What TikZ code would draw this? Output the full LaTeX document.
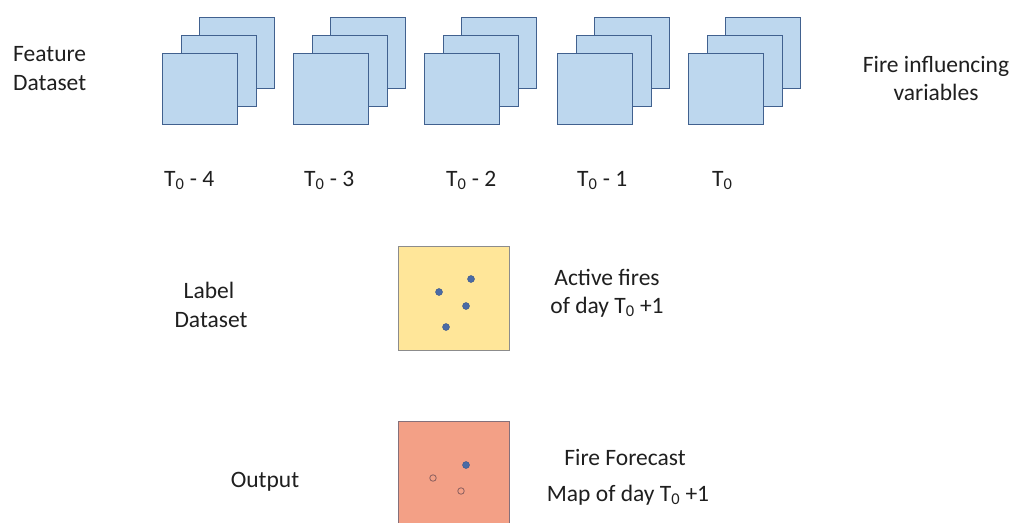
\documentclass[tikz,border=0pt]{standalone}
\usepackage{fontspec}
\setmainfont{Carlito}
\definecolor{layerfill}{HTML}{BDD7EE}
\definecolor{layerline}{HTML}{41618F}
\definecolor{labelfill}{HTML}{FFE699}
\definecolor{labelline}{HTML}{8C8C8C}
\definecolor{outfill}{HTML}{F3A086}
\definecolor{outborder}{HTML}{85707A}
\definecolor{firedot}{HTML}{4A6BA6}
\definecolor{firedotline}{HTML}{3A5589}
\definecolor{ghostdot}{HTML}{8A5E5E}
\begin{document}
\begin{tikzpicture}[x=1pt,y=-1pt,
  txt/.style={font=\fontsize{23.5}{28}\selectfont, text=black!88, inner sep=0pt},
  layer/.style={draw=layerline, fill=layerfill, line width=1pt,
    minimum width=75pt, minimum height=71pt, anchor=north west, inner sep=0pt},
  mapbox/.style={line width=1pt, minimum width=111pt, minimum height=104pt,
    anchor=north west, inner sep=0pt},
  fire/.style={circle, fill=firedot, draw=firedotline, line width=0.4pt,
    minimum size=7pt, inner sep=0pt},
  nofire/.style={circle, fill=outfill, draw=ghostdot, line width=0.8pt,
    minimum size=6.5pt, inner sep=0pt}]
\clip (0,0) rectangle (1016,522);
\fill[white] (0,0) rectangle (1016,522);

% feature stacks: five time steps, three layers each
\foreach \i/\X in {1/162,2/293,3/424,4/557,5/688}{
  \node[layer] (back\i) at (\X+37,17) {};
  \node[layer] (mid\i) at (\X+19,35) {};
  \node[layer] (front\i) at (\X,53) {};
}

% time step captions
\node[txt, anchor=base west] (t4) at (164,186) {T\textsubscript{0} - 4};
\node[txt, anchor=base west] (t3) at (304,186) {T\textsubscript{0} - 3};
\node[txt, anchor=base west] (t2) at (446,186) {T\textsubscript{0} - 2};
\node[txt, anchor=base west] (t1) at (577,186) {T\textsubscript{0} - 1};
\node[txt, anchor=base west] (t0) at (712,186) {T\textsubscript{0}};

% row titles
\node[txt, anchor=base west] (feat1) at (13,61) {Feature};
\node[txt, anchor=base west] (feat2) at (13,90) {Dataset};
\node[txt, anchor=base] (var1) at (936,72) {Fire influencing};
\node[txt, anchor=base] (var2) at (936,100) {variables};

\node[txt, anchor=base] (lab1) at (209,298) {Label};
\node[txt, anchor=base] (lab2) at (211,327) {Dataset};
\node[txt, anchor=base] (out) at (265,487) {Output};

% label map with active fires
\node[mapbox, draw=labelline, fill=labelfill] (labelmap) at (398,246) {};
\node[fire] (f1) at (471,279) {};
\node[fire] (f2) at (439,292) {};
\node[fire] (f3) at (466,306) {};
\node[fire] (f4) at (446,327) {};
\node[txt, anchor=base] (act1) at (607,285) {Active fires};
\node[txt, anchor=base] (act2) at (607,313) {of day T\textsubscript{0} +1};

% forecast map
\node[mapbox, draw=outborder, fill=outfill] (outmap) at (398,421) {};
\node[fire] (g1) at (466,465) {};
\node[nofire] (g2) at (433,478) {};
\node[nofire] (g3) at (461,491) {};
\node[txt, anchor=base] (fc1) at (625,465) {Fire Forecast};
\node[txt, anchor=base] (fc2) at (628,501) {Map of day T\textsubscript{0} +1};
\end{tikzpicture}
\end{document}
